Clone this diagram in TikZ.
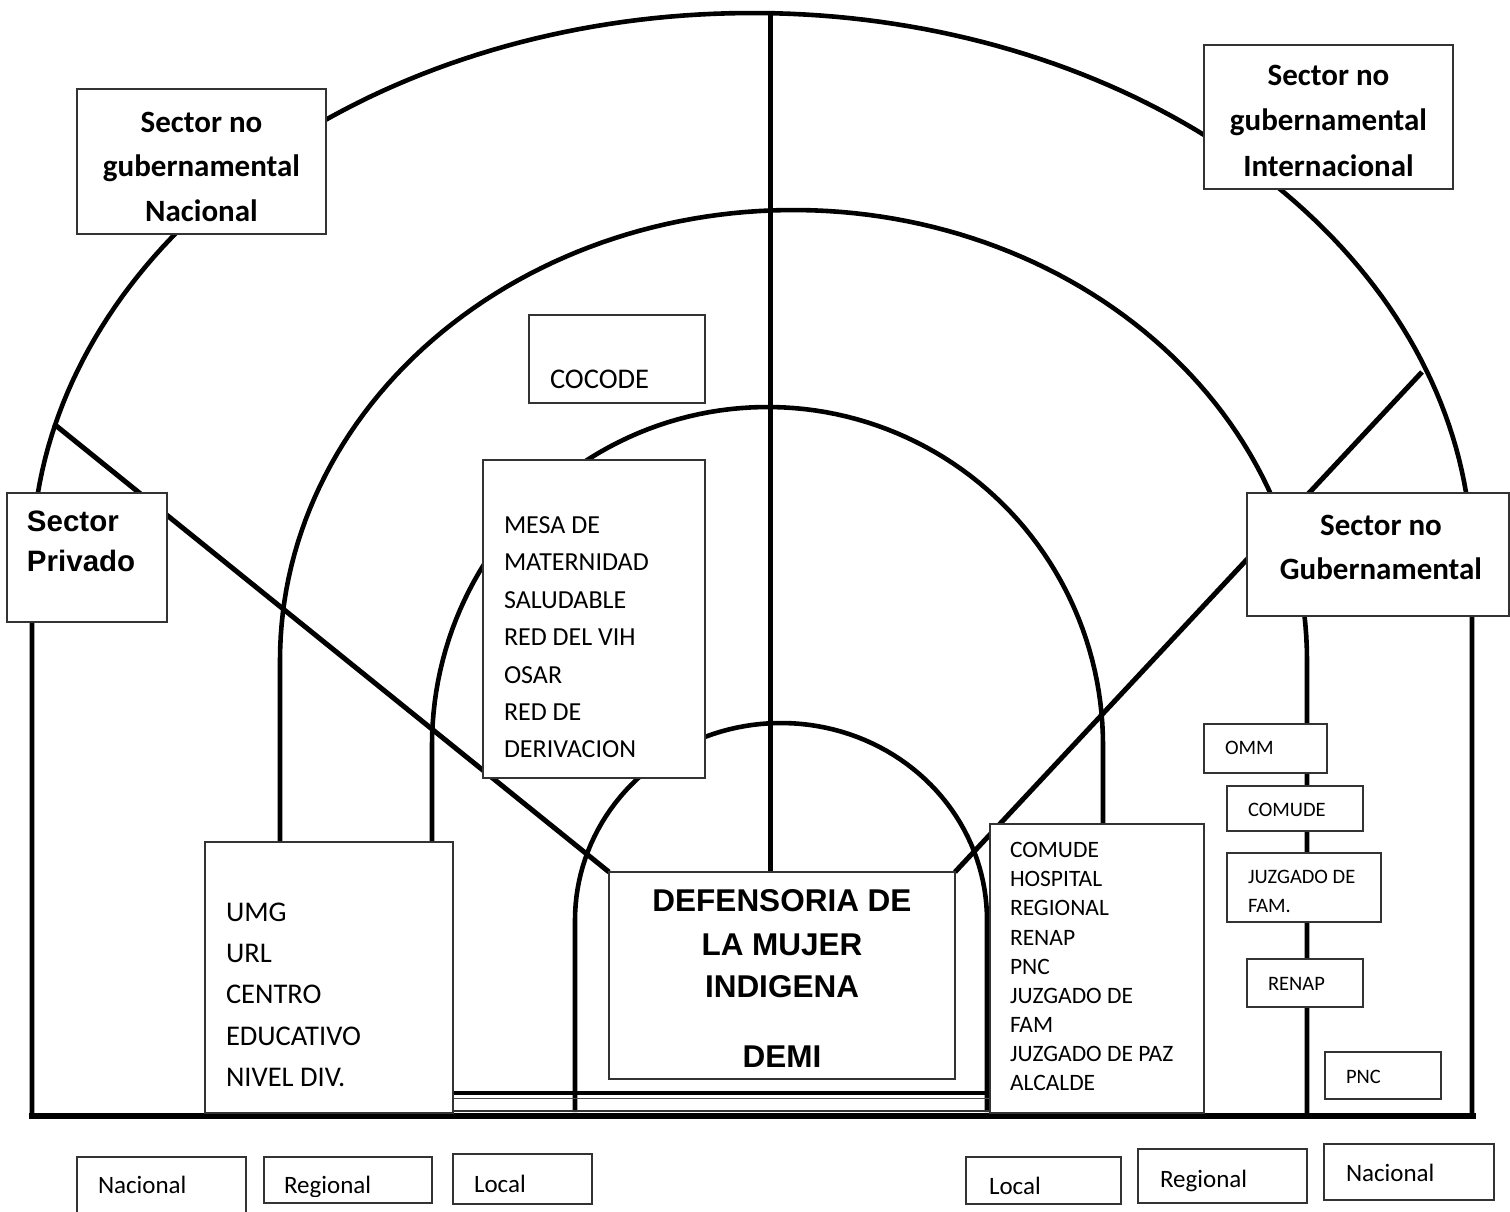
\documentclass[tikz,border=0pt]{standalone}
\usepackage{fontspec}
\setmainfont{Carlito}
\newfontfamily\arialfont{Liberation Sans}
\begin{document}
\begin{tikzpicture}[x=1pt,y=-1pt,
  ring/.style={line width=4.6pt},
  spoke/.style={line width=5pt},
  bx/.style={draw=black!80, line width=1.2pt, fill=white, anchor=north west, inner sep=0pt, outer sep=0pt},
  lbl/.style={anchor=base west, inner sep=0pt, outer sep=0pt},
  hd/.style={anchor=base, inner sep=0pt, outer sep=0pt, font=\bfseries\fontsize{31}{37}\selectfont},
  ar/.style={inner sep=0pt, outer sep=0pt, font=\arialfont\bfseries\fontsize{31.5}{37}\selectfont},
  big/.style={font=\fontsize{28.5}{34}\selectfont},
  mid/.style={font=\fontsize{26}{31}\selectfont},
  sml/.style={font=\fontsize{23.5}{28}\selectfont},
  tiny/.style={font=\fontsize{20.5}{25}\selectfont},
  bot/.style={font=\fontsize{25}{30}\selectfont}]
\useasboundingbox (0,0) rectangle (1510,1212);

% ---------- rings ----------
\draw[ring] (32,1116) -- plot[domain=180:0,samples=150] ({752+720*cos(\x)},{563-550*sin(\x)}) -- (1472,1116);
\draw[ring] (280,1116) -- plot[domain=180:0,samples=120] ({793.5+513.5*cos(\x)},{660-450*sin(\x)}) -- (1307,1116);
\draw[ring] (432,1116) -- plot[domain=180:0,samples=100] ({767.5+335.5*cos(\x)},{745-338*sin(\x)}) -- (1103,1116);
\draw[ring] (575,1112) -- plot[domain=180:0,samples=80] ({781+206*cos(\x)},{920-197*sin(\x)}) -- (987,1112);

% ---------- spokes ----------
\coordinate (topc) at (770,13);
\coordinate (demitop) at (770,872);
\coordinate (dl1) at (54,424);
\coordinate (dl2) at (609,872);
\coordinate (dr1) at (1422,372);
\coordinate (dr2) at (955,872);
\draw[spoke] (topc) -- (demitop);
\draw[spoke] (dl1) -- (dl2);
\draw[spoke] (dr1) -- (dr2);

% ---------- base lines ----------
\coordinate (b1) at (29,1116);
\coordinate (b2) at (1476,1116);
\draw[line width=6pt] (b1) -- (b2);
\coordinate (d1) at (453,1093);
\coordinate (d2) at (990,1093);
\coordinate (d3) at (453,1098.5);
\coordinate (d4) at (990,1098.5);
\coordinate (d5) at (453,1111);
\coordinate (d6) at (990,1111);
\draw[line width=4pt] (d1) -- (d2);
\draw[line width=1.1pt, black!70] (d3) -- (d4);
\draw[line width=1.1pt, black!80] (d5) -- (d6);

% ---------- boxes ----------
\node[bx, minimum width=249pt, minimum height=145pt] (natl) at (77,89) {};
\node[bx, minimum width=249pt, minimum height=144pt] (intl) at (1204,45) {};
\node[bx, minimum width=176pt, minimum height=88pt] (cocode) at (529,315) {};
\node[bx, minimum width=222pt, minimum height=318pt] (mesa) at (483,460) {};
\node[bx, minimum width=160pt, minimum height=129pt] (priv) at (7,493) {};
\node[bx, minimum width=262pt, minimum height=123pt] (nogub) at (1247,493) {};
\node[bx, minimum width=248pt, minimum height=271pt] (umg) at (205,842) {};
\node[bx, minimum width=346pt, minimum height=207pt] (demi) at (609,872) {};
\node[bx, minimum width=214pt, minimum height=289pt] (comude) at (990,824) {};
\node[bx, minimum width=123pt, minimum height=49pt] (omm) at (1204,724) {};
\node[bx, minimum width=136pt, minimum height=45pt] (comudeb) at (1227,786) {};
\node[bx, minimum width=154pt, minimum height=69pt] (juz) at (1227,853) {};
\node[bx, minimum width=116pt, minimum height=48pt] (renap) at (1247,959) {};
\node[bx, minimum width=116pt, minimum height=47pt] (pnc) at (1325,1052) {};
\node[bx, minimum width=169pt, minimum height=62pt] (nac1) at (77,1157) {};
\node[bx, minimum width=168pt, minimum height=46pt] (reg1) at (264,1157) {};
\node[bx, minimum width=139pt, minimum height=50pt] (loc1) at (453,1154) {};
\node[bx, minimum width=155pt, minimum height=47pt] (loc2) at (966,1157) {};
\node[bx, minimum width=169pt, minimum height=54pt] (reg2) at (1138,1149) {};
\node[bx, minimum width=170pt, minimum height=56pt] (nac2) at (1324,1144) {};

% ---------- headings ----------
\node[hd] (natl1) at (201.5,132) {Sector no};
\node[hd] (natl2) at (201.5,176.5) {gubernamental};
\node[hd] (natl3) at (201.5,221) {Nacional};
\node[hd] (intl1) at (1328.5,86) {Sector no};
\node[hd] (intl2) at (1328.5,130.5) {gubernamental};
\node[hd] (intl3) at (1328.5,176) {Internacional};
\node[hd] (nogub1) at (1381,535) {Sector no};
\node[hd] (nogub2) at (1381,579) {Gubernamental};
\node[ar, anchor=base west, font=\arialfont\bfseries\fontsize{29.5}{35}\selectfont] (priv1) at (27,531) {Sector};
\node[ar, anchor=base west, font=\arialfont\bfseries\fontsize{29.5}{35}\selectfont] (priv2) at (27,571) {Privado};
\node[ar, anchor=base] (demi1) at (782,911.5) {DEFENSORIA DE};
\node[ar, anchor=base] (demi2) at (782,955.5) {LA MUJER};
\node[ar, anchor=base] (demi3) at (782,997.5) {INDIGENA};
\node[ar, anchor=base] (demi4) at (782,1067.5) {DEMI};

% ---------- lists ----------
\node[lbl, big] (cocodet) at (550,388) {COCODE};
\foreach \t [count=\i from 0] in {MESA DE, MATERNIDAD, SALUDABLE, RED DEL VIH, OSAR, RED DE, DERIVACION}
  \node[lbl, mid] (mesa\i) at (504,{533.5+37.4*\i}) {\t};
\foreach \t [count=\i from 0] in {UMG, URL, CENTRO, EDUCATIVO, NIVEL DIV.}
  \node[lbl, big] (umg\i) at (226,{921.2+41.3*\i}) {\t};
\foreach \t [count=\i from 0] in {COMUDE, HOSPITAL, REGIONAL, RENAP, PNC, JUZGADO DE, FAM, JUZGADO DE PAZ, ALCALDE}
  \node[lbl, sml] (com\i) at (1010,{857.6+29.15*\i}) {\t};
\node[lbl, tiny] (ommt) at (1225,754.6) {OMM};
\node[lbl, tiny] (comudebt) at (1248,816.6) {COMUDE};
\node[lbl, tiny] (juz1) at (1248,883.6) {JUZGADO DE};
\node[lbl, tiny] (juz2) at (1248,912.6) {FAM.};
\node[lbl, tiny] (renapt) at (1268,990.6) {RENAP};
\node[lbl, tiny] (pnct) at (1346,1083.6) {PNC};

% ---------- bottom labels ----------
\node[lbl, bot] (nac1t) at (98,1193) {Nacional};
\begin{scope}
  \clip (264,1150) rectangle (433,1196);
  \node[lbl, bot] (reg1t) at (284,1193) {Regional};
\end{scope}
\node[lbl, bot] (loc1t) at (474,1192) {Local};
\node[lbl, bot] (loc2t) at (989,1194) {Local};
\node[lbl, bot] (reg2t) at (1160,1187) {Regional};
\node[lbl, bot] (nac2t) at (1346,1181) {Nacional};
\end{tikzpicture}
\end{document}
